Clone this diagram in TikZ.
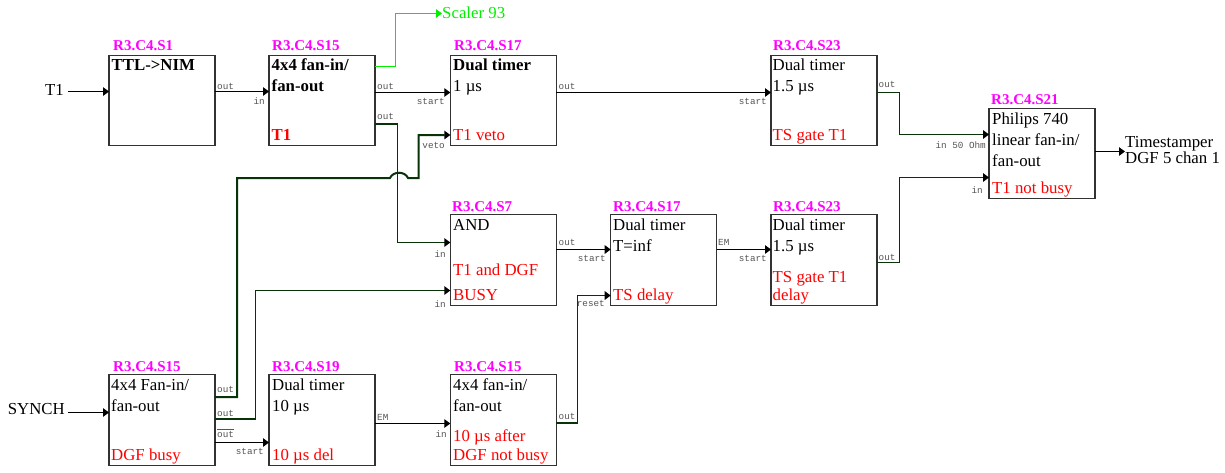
\documentclass[tikz,border=0pt]{standalone}
\usepackage{fontspec}
\setmainfont{Liberation Serif}
\setmonofont{Liberation Mono}
\usetikzlibrary{arrows.meta,calc}
\definecolor{tagmag}{RGB}{255,0,255}
\definecolor{dkgreen}{RGB}{8,50,8}
\definecolor{boxline}{RGB}{50,50,50}
\definecolor{pingray}{RGB}{85,85,85}
\definecolor{brightgreen}{RGB}{0,240,0}
\tikzset{
  modbox/.style={draw=boxline,line width=1.2pt,minimum width=106pt,minimum height=90.5pt,inner sep=0pt,outer sep=0pt},
  tagtext/.style={anchor=base west,inner sep=0pt,text=tagmag,font=\fontsize{15}{17}\selectfont\bfseries},
  body/.style={anchor=base west,inner sep=0pt,text=black,font=\fontsize{16.8}{20}\selectfont},
  bodyb/.style={body,font=\fontsize{16.8}{20}\selectfont\bfseries},
  redt/.style={body,text=red},
  redb/.style={bodyb,text=red},
  ext/.style={body},
  pinl/.style={anchor=base west,inner sep=0pt,text=pingray,font=\fontsize{9.3}{11}\selectfont\ttfamily},
  pinr/.style={anchor=base east,inner sep=0pt,text=pingray,font=\fontsize{9.3}{11}\selectfont\ttfamily},
  wire/.style={draw=black,line width=1.1pt,-{Triangle[length=6pt,width=8.5pt,color=black,fill=black]}},
  wiredk/.style={wire,draw=dkgreen,line width=1.5pt},
  wirethick/.style={wire,draw=dkgreen,line width=2pt},
  wiregr/.style={draw=brightgreen,line width=1.1pt,-{Triangle[length=6pt,width=8.5pt,color=brightgreen,fill=brightgreen]}}
}
\begin{document}
\begin{tikzpicture}[x=1pt,y=-1pt]
\fill[white] (0,0) rectangle (1225,472);
\useasboundingbox (0,0) rectangle (1225,472);
% boxes
\node[modbox] (a) at (162,100.5) {};
\node[modbox] (b) at (322,100.5) {};
\node[modbox] (c) at (503.3,100.5) {};
\node[modbox] (d) at (824,100.5) {};
\node[modbox] (e) at (1042,153.5) {};
\node[modbox] (f) at (503.3,260) {};
\node[modbox] (g) at (663.7,260) {};
\node[modbox] (h) at (824,260) {};
\node[modbox] (i) at (162,420) {};
\node[modbox] (j) at (322,420) {};
\node[modbox] (k) at (503.3,420) {};
% tags
\node[tagtext] (ta) at (113,50.7) {R3.C4.S1};
\node[tagtext] (tb) at (272,50.7) {R3.C4.S15};
\node[tagtext] (tc) at (454,50.7) {R3.C4.S17};
\node[tagtext] (td) at (773,50.7) {R3.C4.S23};
\node[tagtext] (te) at (991,104) {R3.C4.S21};
\node[tagtext] (tf) at (452,211) {R3.C4.S7};
\node[tagtext] (tg) at (613,211) {R3.C4.S17};
\node[tagtext] (th) at (773,211) {R3.C4.S23};
\node[tagtext] (ti) at (113,371) {R3.C4.S15};
\node[tagtext] (tj) at (272,371) {R3.C4.S19};
\node[tagtext] (tk) at (454,371) {R3.C4.S15};
% body text
\node[bodyb] (a1) at (111.5,70) {TTL->NIM};
\node[bodyb] (b1) at (271.5,70) {4x4 fan-in/};
\node[bodyb] (b2) at (271.5,91) {fan-out};
\node[redb] (b3) at (271.5,140) {T1};
\node[bodyb] (c1) at (453,70) {Dual timer};
\node[body] (c2) at (453,91) {1 µs};
\node[redt] (c3) at (453,140) {T1 veto};
\node[body] (d1) at (772.5,70) {Dual timer};
\node[body] (d2) at (772.5,91) {1.5 µs};
\node[redt] (d3) at (772.5,140) {TS gate T1};
\node[body] (e1) at (992,124) {Philips 740};
\node[body] (e2) at (992,145) {linear fan-in/};
\node[body] (e3) at (992,166) {fan-out};
\node[redt] (e4) at (992,193) {T1 not busy};
\node[body] (f1) at (453,230) {AND};
\node[redt] (f2) at (453,275) {T1 and DGF};
\node[redt] (f3) at (453,300) {BUSY};
\node[body] (g1) at (613,230) {Dual timer};
\node[body] (g2) at (613,251) {T=inf};
\node[redt] (g3) at (613,300) {TS delay};
\node[body] (h1) at (772.5,230) {Dual timer};
\node[body] (h2) at (772.5,251) {1.5 µs};
\node[redt] (h3) at (772.5,282) {TS gate T1};
\node[redt] (h4) at (772.5,300) {delay};
\node[body] (i1) at (111,390) {4x4 Fan-in/};
\node[body] (i2) at (111,411) {fan-out};
\node[redt] (i3) at (111,460) {DGF busy};
\node[body] (j1) at (272,390) {Dual timer};
\node[body] (j2) at (272,411) {10 µs};
\node[redt] (j3) at (272,460) {10 µs del};
\node[body] (k1) at (453,390) {4x4 fan-in/};
\node[body] (k2) at (453,411) {fan-out};
\node[redt] (k3) at (453,441) {10 µs after};
\node[redt] (k4) at (453,460) {DGF not busy};
% external labels
\node[ext,anchor=base east] (t1) at (64,95) {T1};
\node[ext,anchor=base east] (sy) at (65,414) {SYNCH};
\node[ext,text=brightgreen] (sc) at (442,18) {Scaler 93};
\node[ext] (ts1) at (1125,147) {Timestamper};
\node[ext] (ts2) at (1125,163) {DGF 5 chan 1};
% pin labels
\node[pinl] at (217,89) {out};
\node[pinr] at (265,104) {in};
\node[pinl] at (377,89) {out};
\node[pinl] at (377,119) {out};
\node[pinr] at (445,104) {start};
\node[pinr] at (445,148) {veto};
\node[pinl] at (558.5,89) {out};
\node[pinr] at (767,104) {start};
\node[pinl] at (878.5,87) {out};
\node[pinr] at (986,148) {in 50 Ohm};
\node[pinr] at (983,193) {in};
\node[pinl] at (878.5,260) {out};
\node[pinr] at (446,257) {in};
\node[pinr] at (446,307) {in};
\node[pinl] at (558.5,245) {out};
\node[pinr] at (606,261) {start};
\node[pinr] at (605,306) {reset};
\node[pinl] at (718,245) {EM};
\node[pinr] at (767,261) {start};
\node[pinl] at (217,392) {out};
\node[pinl] at (217,416) {out};
\node[pinl] at (217,437) {$\overline{\mbox{\ttfamily out}}$};
\node[pinr] at (264,454) {start};
\node[pinl] at (377,420) {EM};
\node[pinr] at (447,437) {in};
\node[pinl] at (558.5,419) {out};
% connectors
\coordinate (gb1) at (395.5,13.5);
\coordinate (dk1) at (397.5,124);
\coordinate (vt1) at (237,397);
\coordinate (vt2) at (237,178);
\coordinate (hopa) at (390,178);
\coordinate (hopb) at (408,178);
\coordinate (vt3) at (418.5,178);
\coordinate (ob2) at (255.5,419);
\coordinate (rs1) at (577.5,423);
\coordinate (t3a) at (899.5,92.5);
\coordinate (t3b) at (899.5,262.5);
\draw[wire] (t1.east |- 0,91.5) ++(4,0) -- (a.west |- 0,91.5);
\draw[wire] (a.east |- 0,91.5) -- (b.west |- 0,91.5);
\draw[wire] (b.east |- 0,92.5) -- (c.west |- 0,92.5);
\draw[wire] (c.east |- 0,92.5) -- (d.west |- 0,92.5);
\draw[wiregr] (b.east |- 0,66.5) -| (gb1) -- (sc.west |- gb1);
\draw[wiredk] (b.east |- dk1) -- (dk1) -- (dk1 |- 0,242.5) -- (f.west |- 0,242.5);
\draw[wirethick] (i.east |- vt1) -- (vt1) -- (vt2) -- (hopa) .. controls (393,171) and (405,171) .. (hopb) -- (vt3) -- (vt3 |- 0,135) -- (c.west |- 0,135);
\draw[wiredk] (i.east |- ob2) -- (ob2) -- (ob2 |- 0,290.5) -- (f.west |- 0,290.5);
\draw[wire] (i.east |- 0,442.5) -- (j.west |- 0,442.5);
\draw[wire] (sy.east |- 0,412.5) ++(3,0) -- (i.west |- 0,412.5);
\draw[wire] (f.east |- 0,249.5) -- (g.west |- 0,249.5);
\draw[wire] (g.east |- 0,249.5) -- (h.west |- 0,249.5);
\draw[wire] (j.east |- 0,423.5) -- (k.west |- 0,423.5);
\draw[wiredk] (k.east |- rs1) -- (rs1) -- (rs1 |- 0,295.5) -- (g.west |- 0,295.5);
\draw[wiredk] (d.east |- t3a) -- (t3a) -- (t3a |- 0,134.5) -- (e.west |- 0,134.5);
\draw[wiredk] (h.east |- t3b) -- (t3b) -- (t3b |- 0,177.5) -- (e.west |- 0,177.5);
\draw[wire] (e.east |- 0,151.5) -- (ts1.west |- 0,151.5);
\end{tikzpicture}
\end{document}
